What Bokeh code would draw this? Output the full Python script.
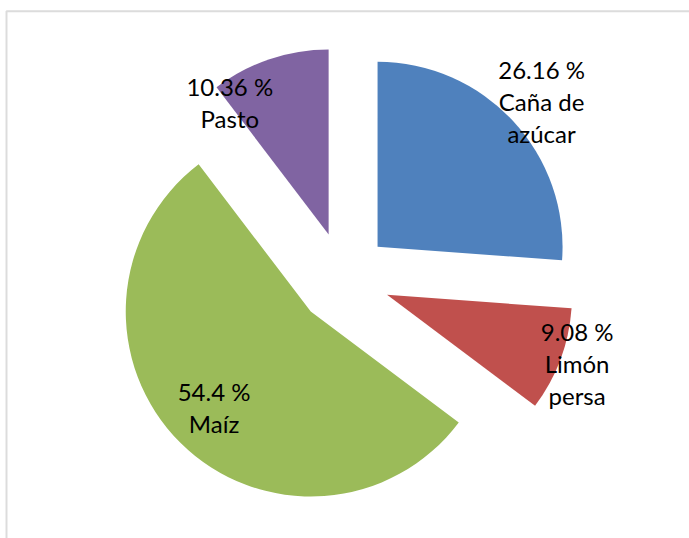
import math
from bokeh.plotting import figure
from bokeh.models import Range1d, BoxAnnotation, ColumnDataSource
from bokeh.core.properties import value
from bokeh.embed import file_html
from bokeh.resources import INLINE

# ---- data ----
categories = ["Caña de azúcar", "Limón persa", "Maíz", "Pasto"]
label_names = ["Caña de\nazúcar", "Limón\npersa", "Maíz", "Pasto"]
percentages = [26.16, 9.08, 54.4, 10.36]

# ---- styles / layout ----
colors = ["#4F81BD", "#C0504D", "#9BBB59", "#8064A2"]
label_dist = [219, 202, 136, 165]        # px from slice apex
label_angle = [48.5, 109.8, 225.3, 323.2]  # deg clockwise from 12 o'clock

W, H = 689, 538
PAGE_H = 538
CX, CY = 343, PAGE_H - 278   # pie centre (data units = px)
R = 185
EXPLODE = 46.5

total = sum(percentages)
starts, ends, xs, ys, lx, ly, texts = [], [], [], [], [], [], []
cum = 0.0
for i, v in enumerate(percentages):
    a0 = cum / total * 360.0
    cum += v
    a1 = cum / total * 360.0
    bis = math.radians((a0 + a1) / 2)
    ax = CX + EXPLODE * math.sin(bis)
    ay = CY + EXPLODE * math.cos(bis)
    xs.append(ax)
    ys.append(ay)
    starts.append(math.radians(90 - a1))
    ends.append(math.radians(90 - a0))
    la = math.radians(label_angle[i])
    lx.append(ax + label_dist[i] * math.sin(la))
    ly.append(ay + label_dist[i] * math.cos(la))
    pct = f"{v:g} %"
    texts.append(pct + "\n" + label_names[i])

src = ColumnDataSource(dict(x=xs, y=ys, start=starts, end=ends, color=colors,
                            cat=categories))
lsrc = ColumnDataSource(dict(x=lx, y=ly, text=texts))

p = figure(width=W, height=H, output_backend="svg", toolbar_location=None,
           x_range=Range1d(0, W), y_range=Range1d(PAGE_H - H, PAGE_H),
           x_axis_type=None, y_axis_type=None, min_border=0)
p.grid.visible = False
p.outline_line_color = None
p.background_fill_color = "white"
p.border_fill_color = "white"

p.add_layout(BoxAnnotation(left=6, top=PAGE_H - 10.8, right=900, bottom=-200,
                           fill_color=None, fill_alpha=0, line_color="#8c8c8c",
                           line_width=2))

p.wedge(x="x", y="y", radius=R, start_angle="start", end_angle="end",
        direction="anticlock", fill_color="color", line_color=None, source=src)

p.text(x="x", y="y", text="text", source=lsrc, text_font=value("Lato"),
       text_font_size="24px", text_align="center", text_baseline="middle",
       text_line_height=1.1, text_color="black")

open("out.html", "w").write(file_html(p, INLINE))
